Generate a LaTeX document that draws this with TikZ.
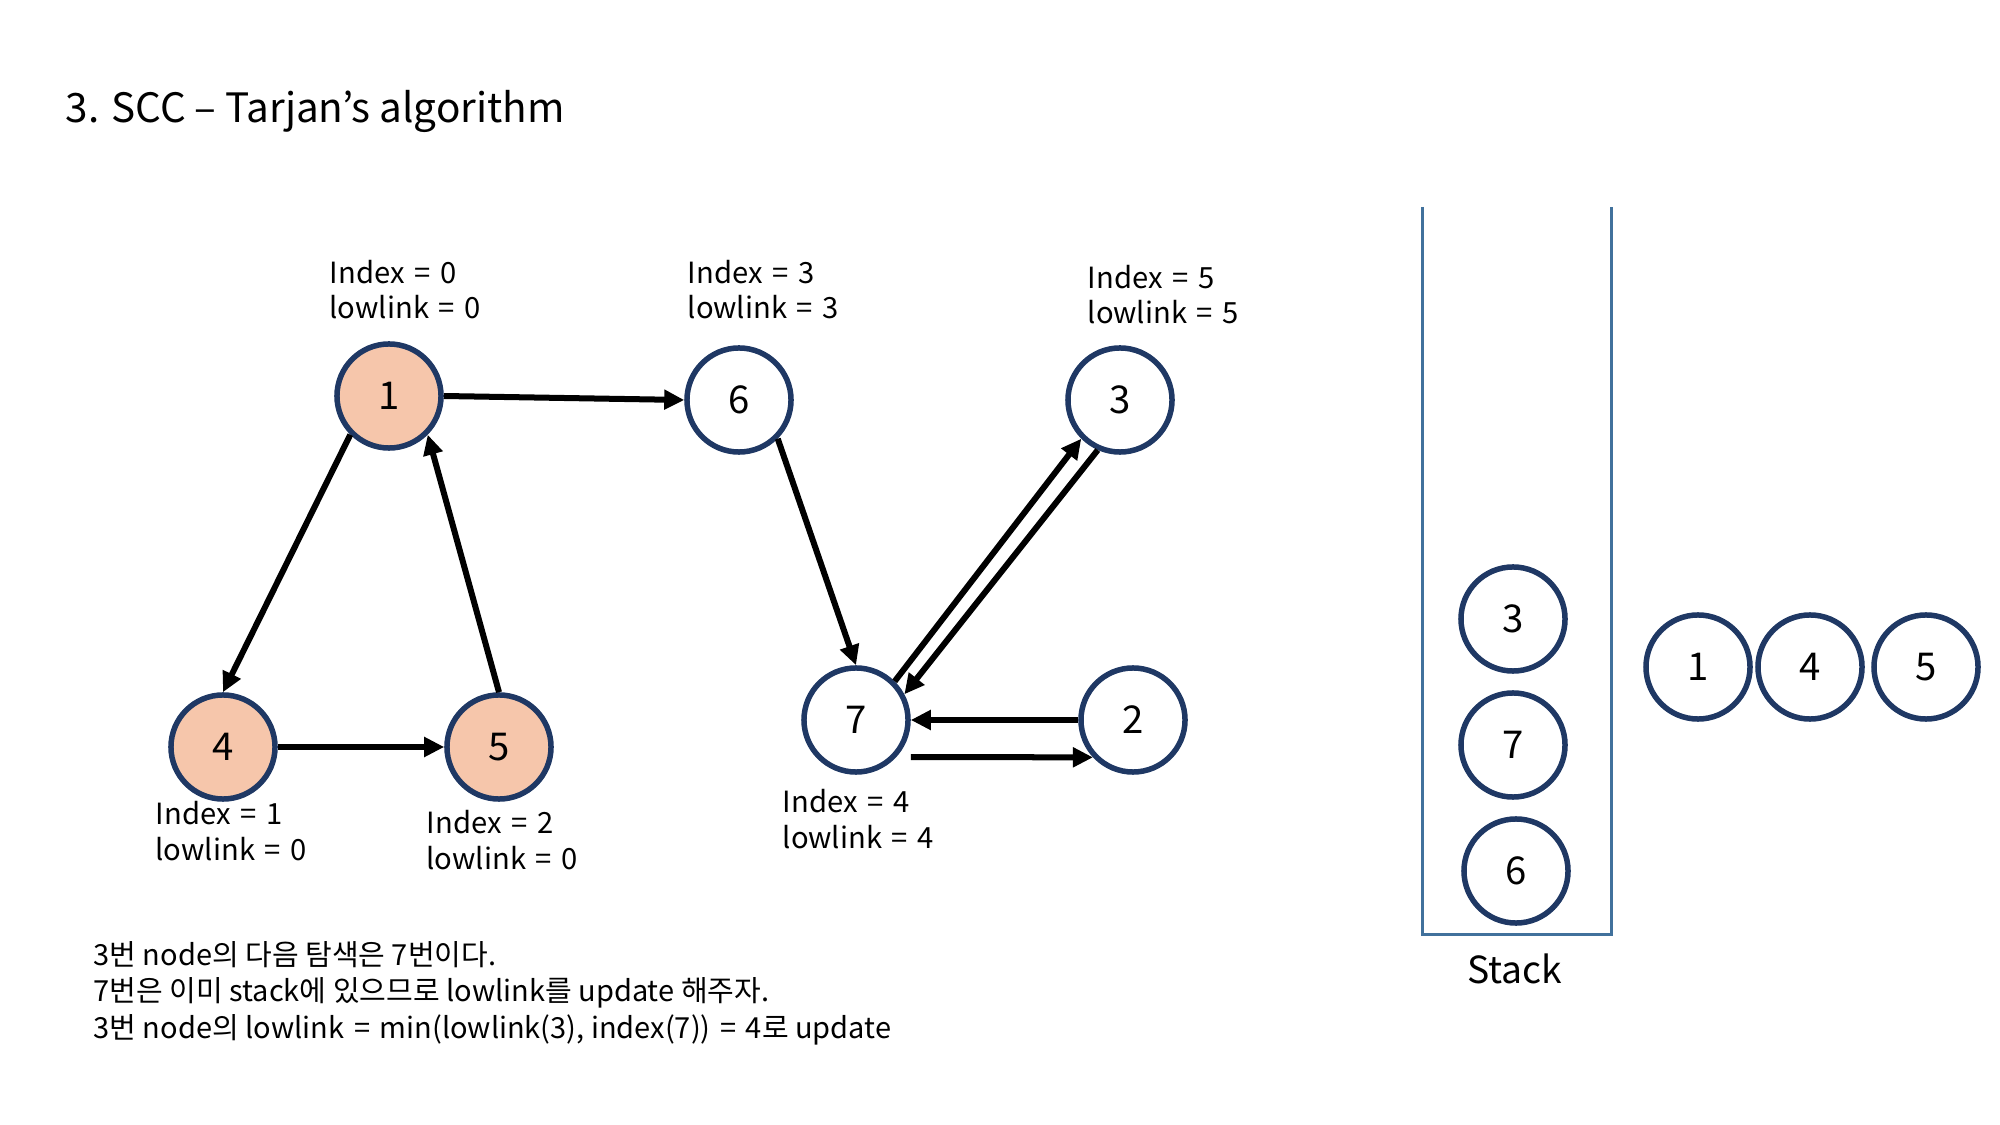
\documentclass[tikz,border=0pt]{standalone}
\usepackage{fontspec}
\setmainfont{Noto Sans CJK KR}
\usetikzlibrary{arrows.meta,calc}
\definecolor{navy}{HTML}{1F3864}
\definecolor{peach}{HTML}{F6C6AB}
\definecolor{wall}{HTML}{41719C}
\newcommand{\eqsign}{\hspace{0.33em}=\hspace{0.33em}}
\tikzset{
 vert/.style={circle, draw=navy, line width=0.055cm, minimum size=1.04cm, inner sep=0pt, fill=white, font=\fontsize{10.9}{13}\selectfont},
 visited/.style={vert, fill=peach},
 lbl/.style={anchor=base west, inner sep=0pt, align=left, font=\fontsize{8.3}{10}\selectfont},
 edge/.style={line width=0.06cm, -{Triangle[length=0.2cm,width=0.19cm]}},
}
\begin{document}
\begin{tikzpicture}[x=0.01cm,y=-0.01cm]
\useasboundingbox (0,0) rectangle (2000,1125);
\node[anchor=base west, inner sep=0pt, font=\fontsize{11.5}{14}\selectfont] (title) at (65,123) {3. SCC – Tarjan’s algorithm};

\node[visited] (n1) at (389,396) {1};
\node[vert] (n6) at (739,400) {6};
\node[vert] (n3) at (1120,400) {3};
\node[visited] (n4) at (223,747) {4};
\node[visited] (n5) at (499,747) {5};
\node[vert] (n7) at (856,720) {7};
\node[vert] (n2) at (1133,720) {2};

% anchored at the baseline of the second line
\node[lbl] (l1) at (329,319) {Index\eqsign 0\\lowlink\eqsign 0};
\node[lbl] (l6) at (687,319) {Index\eqsign 3\\lowlink\eqsign 3};
\node[lbl] (l3) at (1087,324) {Index\eqsign 5\\lowlink\eqsign 5};
\node[lbl] (l4) at (155,860) {Index\eqsign 1\\lowlink\eqsign 0};
\node[lbl] (l5) at (426,869) {Index\eqsign 2\\lowlink\eqsign 0};
\node[lbl] (l7) at (782,848) {Index\eqsign 4\\lowlink\eqsign 4};

\draw[edge] (n1.east) -- (n6.west);
\draw[edge] (n1.225) -- (n4.north);
\draw[edge] (n5.north) -- (n1.315);
\draw[edge] (n4.east) -- (n5.west);
\draw[edge] (n6.315) -- (n7.north);
\draw[edge] (n7.45) -- (n3.225);
\draw[edge] (n3.246) -- (n7.28);
\draw[edge] (n2.west) -- (n7.east);
\draw[edge] ([yshift=-0.37cm]n7.east) -- (n2.223);

\draw[wall, line width=0.03cm] (1422,207) -- (1422,934) -- (1611,934) -- (1611,207);
\node[vert] (s3) at (1513,619) {3};
\node[vert] (s7) at (1513,745) {7};
\node[vert] (s6) at (1516,871) {6};
\node[inner sep=0pt, font=\fontsize{10.6}{13}\selectfont] (stk) at (1515,969) {Stack};

\node[vert] (o1) at (1698,667) {1};
\node[vert] (o4) at (1810,667) {4};
\node[vert] (o5) at (1926,667) {5};

\node[anchor=base west, align=left, inner sep=0pt, font=\fontsize{8.25}{10.3}\selectfont] (note) at (93,1038) {3번 node의 다음 탐색은 7번이다.\\7번은 이미 stack에 있으므로 lowlink를 update 해주자.\\3번 node의 lowlink\eqsign min(lowlink(3), index(7))\eqsign 4로 update};
\end{tikzpicture}
\end{document}
